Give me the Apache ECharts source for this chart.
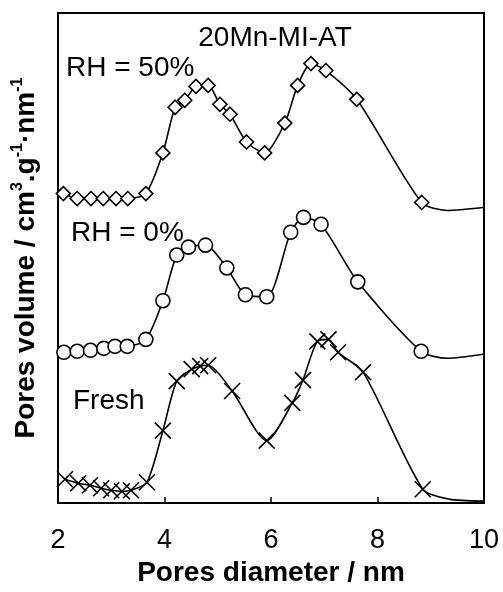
<!DOCTYPE html>
<html>
<head>
<meta charset="utf-8">
<script src="https://cdn.jsdelivr.net/npm/echarts@6/dist/echarts.min.js"></script>
<style>
html,body{margin:0;padding:0;background:#fff;}
#c{width:503px;height:592px;}
</style>
</head>
<body>
<div id="c"></div>
<script>
// Pore diameter (nm) and relative pore volume (arbitrary, offset curves)
const rh50X = [2.10, 2.36, 2.62, 2.85, 3.09, 3.31, 3.65, 3.97, 4.20, 4.38, 4.59, 4.82, 5.04, 5.23, 5.54, 5.88, 6.26, 6.50, 6.75, 7.03, 7.61, 8.83];
const rh50Y = [312, 307, 307, 307, 307, 307, 312, 353, 399, 406, 420, 421, 402, 392, 364, 353, 383, 421, 443, 436, 407, 303];
const rh50TailX = [9.31, 9.98];
const rh50TailY = [295, 298];

const rh0X = [2.11, 2.36, 2.61, 2.86, 3.07, 3.30, 3.65, 3.97, 4.23, 4.45, 4.77, 5.17, 5.52, 5.92, 6.37, 6.61, 6.94, 7.63, 8.82];
const rh0Y = [152, 153, 154, 156, 158, 158, 165, 204, 250, 258, 260, 237, 210, 208, 273, 288, 281, 223, 153];
const rh0TailX = [9.31, 9.98];
const rh0TailY = [146, 150];

const freshX = [2.13, 2.38, 2.60, 2.81, 3.00, 3.20, 3.37, 3.67, 3.97, 4.23, 4.51, 4.67, 4.82, 5.27, 5.92, 6.40, 6.60, 6.87, 7.08, 7.26, 7.73, 8.85];
const freshY = [24, 20, 18, 15, 13, 12, 13, 21, 73, 123, 135, 138, 139, 113, 63, 101, 124, 163, 165, 152, 132, 14];
const freshTailX = [9.35, 9.98];
const freshTailY = [4, 2];

const xTicks = [2, 4, 6, 8, 10];
const labels = ['20Mn-MI-AT', 'RH = 50%', 'RH = 0%', 'Fresh'];

function build(xs, ys, tx, ty) {
  const d = xs.map((x, i) => [x, ys[i]]);
  tx.forEach((x, i) => d.push({ value: [x, ty[i]], symbol: 'none' }));
  return d;
}

const FONT = 'Liberation Sans, Arial, sans-serif';
const chart = echarts.init(document.getElementById('c'), null, { renderer: 'canvas' });

const common = {
  type: 'line',
  smooth: 0.25,
  lineStyle: { color: '#000', width: 1.6 },
  itemStyle: { color: '#fff', borderColor: '#000', borderWidth: 1.6 },
  showAllSymbol: true,
  animation: false,
  z: 3
};

chart.setOption({
  animation: false,
  backgroundColor: '#fff',
  grid: { left: 58, right: 19, top: 13, bottom: 85, show: true, borderColor: '#000', borderWidth: 2, backgroundColor: 'transparent' },
  xAxis: {
    type: 'value', min: xTicks[0], max: xTicks[xTicks.length - 1], interval: 2,
    axisLine: { lineStyle: { color: '#000', width: 2 } },
    axisTick: { inside: true, length: 6, lineStyle: { color: '#000', width: 1.5 } },
    axisLabel: { fontFamily: FONT, fontSize: 27, color: '#000', margin: 24 },
    splitLine: { show: false },
    name: 'Pores diameter / nm', nameLocation: 'middle', nameGap: 52,
    nameTextStyle: { fontFamily: FONT, fontSize: 28, fontWeight: 'bold', color: '#000' }
  },
  yAxis: {
    type: 'value', min: 0, max: 494,
    axisLine: { show: true, lineStyle: { color: '#000', width: 2 } },
    axisTick: { show: false }, axisLabel: { show: false }, splitLine: { show: false },
    name: '{b|Pores volume / cm}{s|3}{b|.g}{s|-1}{b|·nm}{s|-1}',
    nameLocation: 'middle', nameGap: 18, nameRotate: 90,
    nameTextStyle: {
      rich: {
        b: { fontFamily: FONT, fontSize: 28, fontWeight: 'bold', color: '#000', lineHeight: 30, verticalAlign: 'bottom' },
        s: { fontFamily: FONT, fontSize: 16, fontWeight: 'bold', color: '#000', lineHeight: 18, verticalAlign: 'top' }
      }
    }
  },
  series: [
    Object.assign({}, common, { name: labels[1], data: build(rh50X, rh50Y, rh50TailX, rh50TailY), symbol: 'diamond', symbolSize: 14 }),
    Object.assign({}, common, { name: labels[2], data: build(rh0X, rh0Y, rh0TailX, rh0TailY), symbol: 'circle', symbolSize: 14 }),
    Object.assign({}, common, { name: labels[3], data: build(freshX, freshY, freshTailX, freshTailY), symbol: 'path://M0,0L10,10M10,0L0,10', symbolSize: 16,
      itemStyle: { color: 'none', borderColor: '#000', borderWidth: 1.6 } })
  ],
  graphic: [
    { type: 'text', x: 275, y: 38, style: { text: labels[0], font: '28px ' + FONT, fill: '#000', align: 'center', verticalAlign: 'middle' } },
    { type: 'text', x: 66, y: 68, style: { text: labels[1], font: '28px ' + FONT, fill: '#000', align: 'left', verticalAlign: 'middle' } },
    { type: 'text', x: 71, y: 233, style: { text: labels[2], font: '28px ' + FONT, fill: '#000', align: 'left', verticalAlign: 'middle' } },
    { type: 'text', x: 73, y: 401, style: { text: labels[3], font: '28px ' + FONT, fill: '#000', align: 'left', verticalAlign: 'middle' } }
  ]
});
</script>
</body>
</html>
